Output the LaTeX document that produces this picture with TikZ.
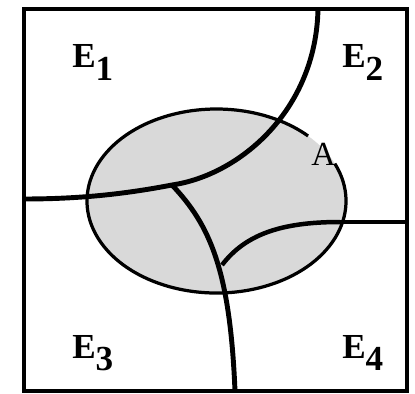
\documentclass[tikz,border=0pt]{standalone}
\usepackage{fontspec}
\setmainfont{Liberation Serif}
\usepackage{tikz}

\begin{document}
\begin{tikzpicture}[x=0.025cm, y=-0.025cm,
        frame/.style={draw, line width=3.2pt},
        event/.style={draw, line width=3.5pt},
        lbl/.style={anchor=base west, inner sep=0pt, font=\fontsize{25}{30}\selectfont\bfseries}
    ]
    \useasboundingbox (0,0) rectangle (415,394);
    % event A
    \fill[black!15] (216.5,201) ellipse [x radius=129.5, y radius=92];
    \draw[line width=2.3pt] (216.5,201) ++(-24:129.5 and 92)
        arc[start angle=-24, end angle=315, x radius=129.5, y radius=92];
    % partition E1..E4
    \coordinate (top) at (318,9);
    \coordinate (j1) at (172,185);
    \coordinate (j2) at (222,265);
    \coordinate (left) at (24,199);
    \coordinate (bot) at (235,391);
    \coordinate (ra) at (340,222);
    \coordinate (right) at (407,222);
    \draw[event] (top) .. controls (316,110) and (240,175) .. (j1)
        .. controls (125,194) and (80,199) .. (left);
    \draw[event] (j1) .. controls (210,225) and (230,270) .. (bot);
    \draw[event, line width=3.2pt] (j2) .. controls (245,235) and (280,222) .. (ra);
    \draw[line width=2.3pt] (ra) -- (right);
    \draw[frame] (24,9) rectangle (407,391);

    \node[lbl] (e1) at (72,68) {E\raisebox{-0.3cm}{1}};
    \node[lbl] (e2) at (342,68) {E\raisebox{-0.3cm}{2}};
    \node[lbl] (e3) at (72,358) {E\raisebox{-0.3cm}{3}};
    \node[lbl] (e4) at (342,358) {E\raisebox{-0.3cm}{4}};
    \node[lbl, font=\fontsize{24}{29}\selectfont] (a) at (311,165) {A};
\end{tikzpicture}
\end{document}
